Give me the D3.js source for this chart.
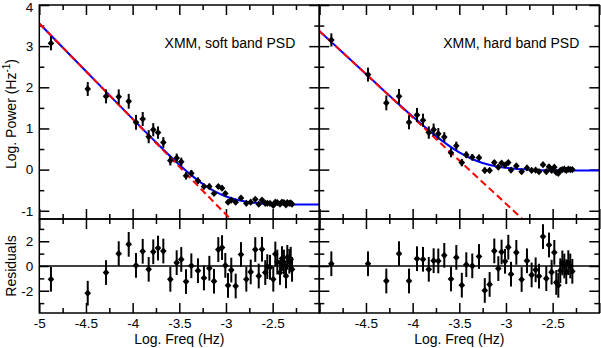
<!DOCTYPE html>
<html>
<head>
<meta charset="utf-8">
<script src="https://cdn.jsdelivr.net/npm/d3@7"></script>
<style>
  body { margin: 0; background: #fff; }
  svg { display: block; font-family: "Liberation Sans", Arial, Helvetica, sans-serif; }
  .tick line { stroke: #000; stroke-width: 1.5; }
  .tick text { font-size: 13.5px; fill: #000; }
</style>
</head>
<body>
<div id="vis"></div>
<script>
// soft band (left panel)
var freqSoft = [-4.875, -4.481, -4.285, -4.149, -4.042, -3.964, -3.892, -3.828, -3.779, -3.728,
    -3.671, -3.596, -3.528, -3.479, -3.428, -3.371, -3.300, -3.236, -3.178, -3.128,
    -3.082, -3.042, -3.007, -2.978, -2.943, -2.896, -2.839, -2.782, -2.735, -2.686,
    -2.649, -2.614, -2.579, -2.557, -2.528, -2.493, -2.471, -2.450, -2.421, -2.400,
    -2.379, -2.357, -2.343, -2.321, -2.306, -2.292];
var powerSoft = [3.07, 1.96, 1.78, 1.77, 1.66, 1.15, 1.23, 0.80, 0.97, 0.90,
    0.66, 0.22, 0.28, 0.19, -0.15, -0.09, -0.27, -0.41, -0.41, -0.58,
    -0.41, -0.45, -0.58, -0.79, -0.74, -0.79, -0.69, -0.82, -0.79, -0.72,
    -0.84, -0.74, -0.82, -0.82, -0.82, -0.87, -0.79, -0.80, -0.84, -0.79,
    -0.80, -0.86, -0.80, -0.82, -0.81, -0.84];
var errSoft = [0.17, 0.17, 0.17, 0.18, 0.18, 0.18, 0.17, 0.16, 0.16, 0.15,
    0.13, 0.12, 0.11, 0.10, 0.09, 0.08, 0.08, 0.07, 0.07, 0.06,
    0.06, 0.06, 0.05, 0.05, 0.05, 0.05, 0.05, 0.04, 0.04, 0.04,
    0.04, 0.04, 0.04, 0.04, 0.04, 0.04, 0.04, 0.04, 0.04, 0.04,
    0.04, 0.04, 0.04, 0.04, 0.04, 0.04];
var residSoft = [-1.07, -2.2, -0.53, 1.0, 1.75, 0.05, 1.19, -0.27, 1.15, 1.45,
    1.21, -1.08, 0.27, 0.53, -1.26, 0.02, -0.38, -0.97, -0.18, -1.23,
    1.33, 1.49, 0.05, -1.57, -0.33, -1.62, 0.93, -1.07, -0.48, 1.33,
    -0.81, 1.35, -0.53, -0.05, -0.1, -1.07, 0.97, 0.32, -0.53, 0.6,
    0.32, -0.8, 0.7, 0.38, 0.54, -0.27];

// hard band (right panel)
var freqHard = [-4.871, -4.478, -4.282, -4.146, -4.039, -3.953, -3.889, -3.827, -3.775, -3.725,
    -3.661, -3.589, -3.532, -3.473, -3.425, -3.361, -3.289, -3.227, -3.175, -3.125,
    -3.082, -3.047, -3.010, -2.975, -2.946, -2.889, -2.832, -2.775, -2.725, -2.682,
    -2.646, -2.603, -2.568, -2.539, -2.511, -2.482, -2.461, -2.439, -2.418, -2.396,
    -2.375, -2.354, -2.332, -2.311, -2.289];
var powerHard = [3.15, 2.31, 1.62, 1.78, 1.15, 1.33, 1.20, 0.90, 0.97, 0.87,
    0.79, 0.41, 0.58, 0.17, 0.36, 0.30, 0.29, -0.02, -0.02, 0.17,
    0.06, 0.16, 0.11, 0.17, -0.01, 0.09, -0.05, 0.04, -0.02, -0.01,
    -0.05, 0.12, -0.05, 0.07, -0.02, 0.06, -0.07, -0.09, -0.02, 0.00,
    0.01, -0.02, 0.01, 0.00, 0.00];
var errHard = [0.16, 0.17, 0.18, 0.18, 0.17, 0.17, 0.16, 0.15, 0.15, 0.14,
    0.12, 0.11, 0.10, 0.09, 0.08, 0.08, 0.07, 0.07, 0.06, 0.06,
    0.06, 0.05, 0.05, 0.05, 0.05, 0.05, 0.05, 0.04, 0.04, 0.04,
    0.04, 0.04, 0.04, 0.04, 0.04, 0.04, 0.04, 0.04, 0.04, 0.04,
    0.04, 0.04, 0.04, 0.04, 0.04];
var residHard = [0.18, 0.18, -1.21, 1.0, -1.21, 0.59, 0.54, -0.27, 0.43, 0.41,
    0.86, -1.05, 0.69, -1.55, 0.11, 0.01, 0.77, -1.98, -1.49, 1.22,
    -0.21, 1.13, 0.38, 1.52, -0.66, 1.1, -1.09, 0.42, -0.72, -0.31,
    -0.82, 2.38, -1.02, 1.7, -0.5, 1.1, -1.33, -1.56, -0.38, 0.25,
    0.0, -0.46, 0.27, 0.0, -0.43];

// model curves (blue = full model, red = power law only)
var modelFreq = [-5, -4.5, -4, -3.75, -3.5, -3.375, -3.25, -3.125, -3, -2.875, -2.75, -2.5, -2.25, -2];
var modelSoft = [3.55, 2.39, 1.234, 0.664, 0.119, -0.128, -0.347, -0.524, -0.653, -0.738, -0.79, -0.834, -0.846, -0.849];
var modelHard = [3.37, 2.322, 1.292, 0.814, 0.417, 0.27, 0.161, 0.088, 0.043, 0.015, -0.0004, -0.014, -0.019, -0.02];
var plFreq = [-5, -2];
var plSoft = [3.55, -3.41];
var plHard = [3.37, -2.93];

// ticks
var xMajor = [-5, -4.5, -4, -3.5, -3, -2.5, -2];
var xMinor = [-4.75, -4.25, -3.75, -3.25, -2.75, -2.25];
var xLabelsLeft = [-5, -4.5, -4, -3.5, -3, -2.5];
var xLabelsRight = [-4.5, -4, -3.5, -3, -2.5];
var yTopMajor = [-1, 0, 1, 2, 3, 4];
var yTopMinor = [-0.5, 0.5, 1.5, 2.5, 3.5];
var yResMajor = [-2, 0, 2];
var yResMinor = [-3, -1, 1, 3];

var W = 601, H = 348;
var topY = [5, 219], resY = [219, 313];

var svg = d3.select('#vis').append('svg')
    .attr('width', W)
    .attr('height', H);

var yTop = d3.scaleLinear().domain([-1.2, 4]).range([topY[1], topY[0]]);
var yRes = d3.scaleLinear().domain([-3.8, 3.8]).range([resY[1], resY[0]]);

var panels = [
    { x0: 39.3, x1: 319.3, freq: freqSoft, power: powerSoft, err: errSoft, resid: residSoft,
      model: modelSoft, pl: plSoft, title: 'XMM, soft band PSD', labels: xLabelsLeft, left: true },
    { x0: 319.3, x1: 599.3, freq: freqHard, power: powerHard, err: errHard, resid: residHard,
      model: modelHard, pl: plHard, title: 'XMM, hard band PSD', labels: xLabelsRight, left: false }
];

var diamond = 'M0,-3.6L3.3,0L0,3.6L-3.3,0Z';

panels.forEach(function (p, i) {
    var x = d3.scaleLinear().domain([-5, -2]).range([p.x0, p.x1]);
    var w = p.x1 - p.x0;

    svg.append('clipPath').attr('id', 'clip' + i)
        .append('rect')
        .attr('x', p.x0).attr('y', topY[0])
        .attr('width', w).attr('height', topY[1] - topY[0]);

    // --- axes ---
    function fmt(vals) {
        return function (d) { return vals.indexOf(d) >= 0 ? String(d) : ''; };
    }
    // bottom of top panel (ticks up) / top of residual panel (ticks down)
    svg.append('g').attr('transform', 'translate(0,' + topY[1] + ')')
        .call(d3.axisBottom(x).tickValues(xMajor).tickSize(-10).tickFormat(''));
    svg.append('g').attr('transform', 'translate(0,' + topY[1] + ')')
        .call(d3.axisBottom(x).tickValues(xMinor).tickSize(-5).tickFormat(''));
    svg.append('g').attr('transform', 'translate(0,' + topY[1] + ')')
        .call(d3.axisTop(x).tickValues(xMajor).tickSize(-10).tickFormat(''));
    svg.append('g').attr('transform', 'translate(0,' + topY[1] + ')')
        .call(d3.axisTop(x).tickValues(xMinor).tickSize(-5).tickFormat(''));
    // top of top panel
    svg.append('g').attr('transform', 'translate(0,' + topY[0] + ')')
        .call(d3.axisTop(x).tickValues(xMajor).tickSize(-10).tickFormat(''));
    svg.append('g').attr('transform', 'translate(0,' + topY[0] + ')')
        .call(d3.axisTop(x).tickValues(xMinor).tickSize(-5).tickFormat(''));
    // bottom of residual panel, with labels
    svg.append('g').attr('transform', 'translate(0,' + resY[1] + ')')
        .call(d3.axisBottom(x).tickValues(xMajor).tickSize(-10).tickPadding(5).tickFormat(fmt(p.labels)));
    svg.append('g').attr('transform', 'translate(0,' + resY[1] + ')')
        .call(d3.axisBottom(x).tickValues(xMinor).tickSize(-5).tickFormat(''));

    // y axes
    var yTopAxis = svg.append('g').attr('transform', 'translate(' + p.x0 + ',0)')
        .call(d3.axisLeft(yTop).tickValues(yTopMajor).tickSize(-10).tickPadding(6)
            .tickFormat(p.left ? function (d) { return String(d); } : ''));
    // keep the top label inside the picture
    yTopAxis.selectAll('.tick text').filter(function (d) { return d === 4; }).attr('dy', '0.48em');
    svg.append('g').attr('transform', 'translate(' + p.x0 + ',0)')
        .call(d3.axisLeft(yTop).tickValues(yTopMinor).tickSize(-5).tickFormat(''));
    svg.append('g').attr('transform', 'translate(' + p.x1 + ',0)')
        .call(d3.axisRight(yTop).tickValues(yTopMajor).tickSize(-10).tickFormat(''));
    svg.append('g').attr('transform', 'translate(' + p.x1 + ',0)')
        .call(d3.axisRight(yTop).tickValues(yTopMinor).tickSize(-5).tickFormat(''));

    svg.append('g').attr('transform', 'translate(' + p.x0 + ',0)')
        .call(d3.axisLeft(yRes).tickValues(yResMajor).tickSize(-10).tickPadding(6)
            .tickFormat(p.left ? function (d) { return String(d); } : ''));
    svg.append('g').attr('transform', 'translate(' + p.x0 + ',0)')
        .call(d3.axisLeft(yRes).tickValues(yResMinor).tickSize(-5).tickFormat(''));
    svg.append('g').attr('transform', 'translate(' + p.x1 + ',0)')
        .call(d3.axisRight(yRes).tickValues(yResMajor).tickSize(-10).tickFormat(''));
    svg.append('g').attr('transform', 'translate(' + p.x1 + ',0)')
        .call(d3.axisRight(yRes).tickValues(yResMinor).tickSize(-5).tickFormat(''));

    svg.selectAll('.domain').remove();

    // --- model lines ---
    var mline = d3.line()
        .x(function (d) { return x(d[0]); })
        .y(function (d) { return yTop(d[1]); })
        .curve(d3.curveMonotoneX);
    svg.append('path')
        .datum(d3.zip(modelFreq, p.model))
        .attr('clip-path', 'url(#clip' + i + ')')
        .attr('d', mline)
        .attr('fill', 'none')
        .attr('stroke', '#0000ff')
        .attr('stroke-width', 2);
    svg.append('path')
        .datum(d3.zip(plFreq, p.pl))
        .attr('clip-path', 'url(#clip' + i + ')')
        .attr('d', d3.line().x(function (d) { return x(d[0]); }).y(function (d) { return yTop(d[1]); }))
        .attr('fill', 'none')
        .attr('stroke', '#ff0000')
        .attr('stroke-width', 2)
        .attr('stroke-dasharray', '7,4');

    // --- data, top panel ---
    var data = p.freq.map(function (f, k) {
        return { f: f, y: p.power[k], e: p.err[k], r: p.resid[k] };
    });
    svg.append('g').selectAll('line').data(data).enter().append('line')
        .attr('x1', function (d) { return x(d.f); })
        .attr('x2', function (d) { return x(d.f); })
        .attr('y1', function (d) { return yTop(d.y - d.e); })
        .attr('y2', function (d) { return yTop(d.y + d.e); })
        .attr('stroke', '#000').attr('stroke-width', 2);
    svg.append('g').selectAll('path').data(data).enter().append('path')
        .attr('d', diamond)
        .attr('transform', function (d) { return 'translate(' + x(d.f) + ',' + yTop(d.y) + ')'; })
        .attr('fill', '#000');

    // --- residuals ---
    svg.append('line')
        .attr('x1', p.x0).attr('x2', p.x1)
        .attr('y1', yRes(0)).attr('y2', yRes(0))
        .attr('stroke', '#000').attr('stroke-width', 1.3);
    svg.append('g').selectAll('line').data(data).enter().append('line')
        .attr('x1', function (d) { return x(d.f); })
        .attr('x2', function (d) { return x(d.f); })
        .attr('y1', function (d) { return yRes(d.r - 1); })
        .attr('y2', function (d) { return yRes(d.r + 1); })
        .attr('stroke', '#000').attr('stroke-width', 2);
    svg.append('g').selectAll('path').data(data).enter().append('path')
        .attr('d', diamond)
        .attr('transform', function (d) { return 'translate(' + x(d.f) + ',' + yRes(d.r) + ')'; })
        .attr('fill', '#000');

    // frames
    svg.append('rect')
        .attr('x', p.x0).attr('y', topY[0])
        .attr('width', w).attr('height', topY[1] - topY[0])
        .attr('fill', 'none').attr('stroke', '#000').attr('stroke-width', 1.5);
    svg.append('rect')
        .attr('x', p.x0).attr('y', resY[0])
        .attr('width', w).attr('height', resY[1] - resY[0])
        .attr('fill', 'none').attr('stroke', '#000').attr('stroke-width', 1.5);

    // annotation
    svg.append('text')
        .attr('x', p.x1 - (p.left ? 24 : 20))
        .attr('y', 48)
        .attr('text-anchor', 'end')
        .style('font-size', '14px')
        .text(p.title);

    // x label
    svg.append('text')
        .attr('x', (p.x0 + p.x1) / 2)
        .attr('y', 344)
        .attr('text-anchor', 'middle')
        .style('font-size', '14px')
        .text('Log. Freq (Hz)');
});

// y labels
var yl = svg.append('text')
    .attr('transform', 'translate(16,' + 114 + ') rotate(-90)')
    .attr('text-anchor', 'middle')
    .style('font-size', '14px');
yl.append('tspan').text('Log. Power (Hz');
yl.append('tspan').attr('dy', -6).style('font-size', '10px').text('-1');
yl.append('tspan').attr('dy', 6).text(')');

svg.append('text')
    .attr('transform', 'translate(16,' + 266 + ') rotate(-90)')
    .attr('text-anchor', 'middle')
    .style('font-size', '14px')
    .text('Residuals');
</script>
</body>
</html>
